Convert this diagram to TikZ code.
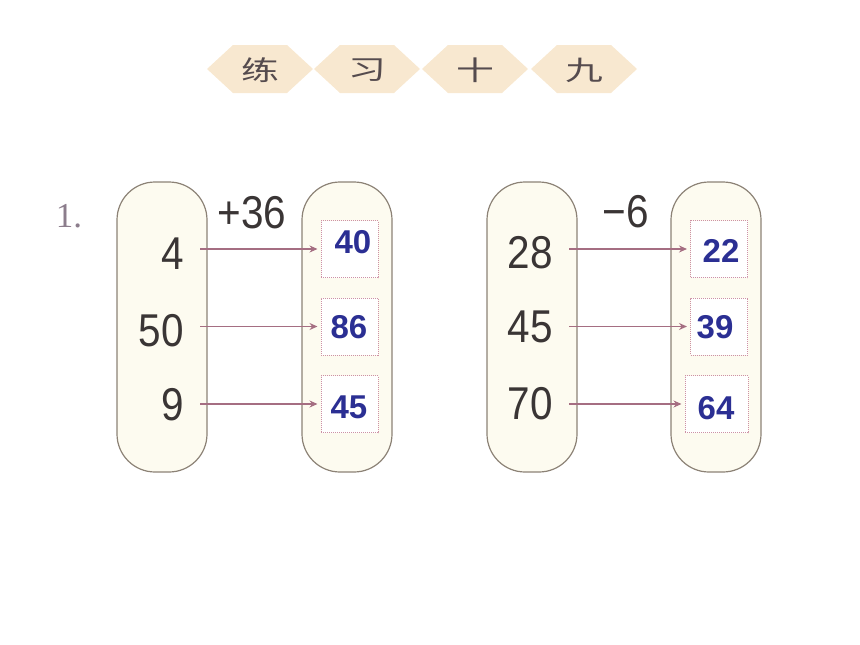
\documentclass[tikz,border=0pt]{standalone}
\usepackage{fontspec}
\setmainfont{Liberation Sans}
\newfontfamily\cjk{Noto Sans CJK SC}
\newfontfamily\numserif{Liberation Serif}
\usepackage{xcolor}
\usetikzlibrary{shapes,arrows,arrows.meta,positioning}

\definecolor{hexfill}{RGB}{248,232,208}
\definecolor{titlegray}{RGB}{85,75,78}
\definecolor{capfill}{RGB}{253,251,240}
\definecolor{capline}{RGB}{140,130,118}
\definecolor{numgray}{RGB}{58,53,53}
\definecolor{boxline}{RGB}{205,145,165}
\definecolor{arrcol}{RGB}{165,110,130}
\definecolor{ansblue}{RGB}{43,47,147}
\definecolor{headgray}{RGB}{140,125,140}

\begin{document}
\begin{tikzpicture}[x=1pt,y=-1pt,
    capsule/.style={draw=capline, fill=capfill, line width=1.2pt, rounded corners=38pt,
        minimum width=90pt, minimum height=290pt},
    num/.style={font=\fontsize{46}{46}\selectfont, text=numgray, xscale=0.88, inner sep=0},
    ansbox/.style={draw=boxline, densely dotted, fill=white, line width=1pt,
        minimum width=57pt, minimum height=57pt, inner sep=0},
    ans/.style={font=\bfseries\fontsize{33}{33}\selectfont, text=ansblue, inner sep=0},
    link/.style={draw=arrcol, line width=1.8pt, -{Stealth[length=8pt,width=7pt]},
        shorten <=16pt, shorten >=3pt}]
    \useasboundingbox (0,0) rectangle (860,645);

    % Title
    \foreach \cx/\ch [count=\i] in {260/练, 367/习, 475/十, 584/九} {
        \fill[hexfill] (\cx-53,69) -- (\cx-27,45) -- (\cx+27,45) -- (\cx+53,69)
            -- (\cx+27,93) -- (\cx-27,93) -- cycle;
        \node[font=\cjk\fontsize{27}{27}\selectfont, text=titlegray, xscale=1.4] (t\i) at (\cx,70) {\ch};
    }

    \node[font=\numserif\fontsize{35}{35}\selectfont, text=headgray] (head) at (69,216) {1.};

    % +36
    \node[capsule] (L1) at (162,327) {};
    \node[capsule] (R1) at (347,327) {};
    \node[num] (op1) at (252,213) {+36};
    \foreach \n/\y/\by/\v/\vx/\vy [count=\i] in {4/254/249/40/353/242, 50/331/326.5/86/349/327, 9/405/404/45/349/407} {
        \node[num, anchor=east] (a\i) at (184,\y) {\n};
        \node[ansbox] (b\i) at (349.5,\by) {};
        \node[ans] (v\i) at (\vx,\vy) {\v};
        \draw[link] (a\i.east |- b\i.west) -- (b\i.west);
    }

    % -6
    \node[capsule] (L2) at (532,327) {};
    \node[capsule] (R2) at (716,327) {};
    \node[num] (op2) at (626,212) {−6};
    \foreach \n/\y/\bx/\by/\bw/\v/\vx/\vy [count=\i] in {28/253/719/249/57/22/721/251, 45/327/719/326.5/57/39/715/327, 70/404/716.5/404/63/64/716/408} {
        \node[num, anchor=east] (c\i) at (553,\y) {\n};
        \node[ansbox, minimum width=\bw pt] (d\i) at (\bx,\by) {};
        \node[ans] (w\i) at (\vx,\vy) {\v};
        \draw[link] (c\i.east |- d\i.west) -- (d\i.west);
    }
\end{tikzpicture}
\end{document}
